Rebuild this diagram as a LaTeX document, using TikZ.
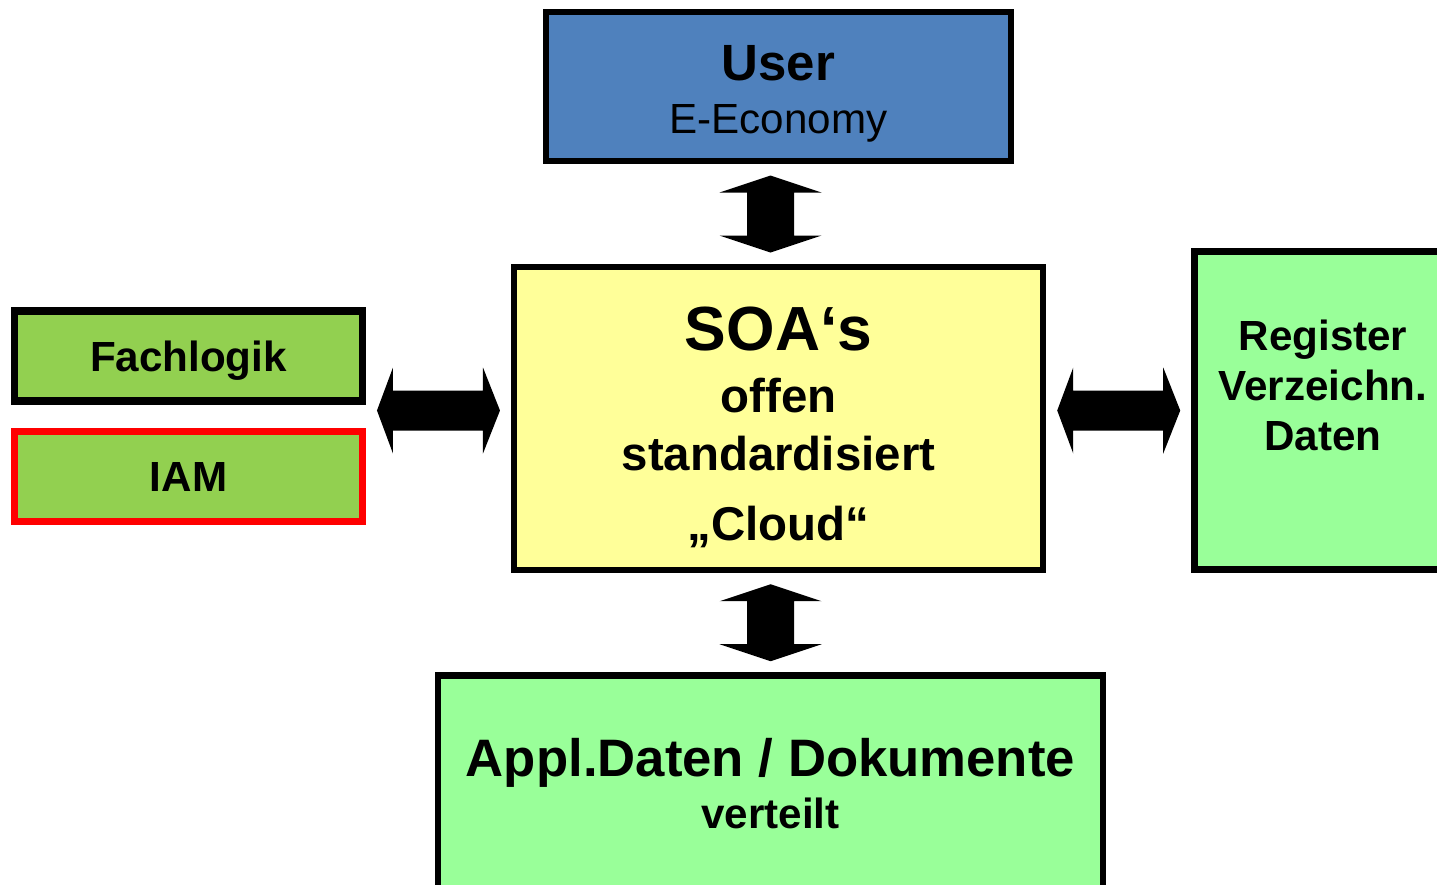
\documentclass[tikz,border=0pt]{standalone}
\usepackage{fontspec}
\setmainfont{Liberation Sans}
\usetikzlibrary{calc}

\definecolor{userblue}{RGB}{79,129,189}
\definecolor{soayellow}{RGB}{255,255,153}
\definecolor{fachgreen}{RGB}{146,208,80}
\definecolor{datagreen}{RGB}{153,255,153}

\tikzset{
  cbox/.style={draw=black, line width=3.5pt, rectangle, inner sep=0pt, align=center, font=\bfseries},
  sidebox/.style={cbox, fill=fachgreen, line width=4pt, minimum width=6.96cm, minimum height=1.8cm, text depth=0pt, font=\bfseries\fontsize{24}{28}\selectfont},
  vdarrow/.pic={\fill[black] (0,-38.5) -- ++(51,17) -- ++(-27.5,0) -- ++(0,43) -- ++(27.5,0) -- ++(-51,17) -- ++(-51,-17) -- ++(27.5,0) -- ++(0,-43) -- ++(-27.5,0) -- cycle;},
  hdarrow/.pic={\fill[black] (-61.5,0) -- ++(16,-43) -- ++(0,23) -- ++(90,0) -- ++(0,-23) -- ++(17,43) -- ++(-17,43) -- ++(0,-23) -- ++(-90,0) -- ++(0,23) -- cycle;}
}

\begin{document}
\begin{tikzpicture}[x=0.02cm, y=-0.02cm]
	  \useasboundingbox (0,0) rectangle (1437,885);   % page = reference size
	  \clip (0,0) rectangle (1437,885);

	  \node[cbox, fill=userblue, minimum width=9.3cm, minimum height=2.98cm, font=\bfseries\fontsize{29}{30.6}\selectfont] (user) at (778.5,86.5)
	    {\mbox{}\\[-2.4pt] User\\ \fontsize{24}{30.6}\selectfont\mdseries E-Economy};

	  \node[cbox, fill=soayellow, minimum width=10.58cm, minimum height=6.06cm, font=\bfseries\fontsize{27}{33}\selectfont] (soa) at (778.5,418.5)
	    {\mbox{}\\[2pt] {\fontsize{35.5}{36}\selectfont SOA‘s}\\[2pt] offen\\ standardisiert\\[7pt] „Cloud“};

	  \node[sidebox] (fach) at (188.5,356) {Fachlogik};
	  \node[sidebox, draw=red] (iam) at (188.5,476.5) {IAM};

	  \node[cbox, fill=datagreen, minimum width=5.14cm, minimum height=6.36cm, font=\bfseries\fontsize{24}{28.4}\selectfont] (reg) at (1323,410.5)
	    {Register\\ Verzeichn.\\ Daten\\ \mbox{}};

	  \node[cbox, fill=datagreen, minimum width=13.3cm, minimum height=4.34cm, font=\bfseries\fontsize{30}{29.5}\selectfont] (app) at (770.5,784)
	    {Appl.Daten / Dokumente\\ \fontsize{24}{29.5}\selectfont verteilt};

	  % double arrows between the boxes
	  \coordinate (tm) at ($(user.south)!0.5!(soa.north)$);
	  \coordinate (bm) at ($(soa.south)!0.5!(app.north)$);
	  \coordinate (lm) at ($(fach.east)!0.5!(soa.west)$);
	  \coordinate (rm) at ($(soa.east)!0.5!(reg.west)$);
	  \pic at (app.north |- tm) {vdarrow};
	  \pic at (app.north |- bm) {vdarrow};
	  \pic at (lm |- reg.west) {hdarrow};
	  \pic at (rm |- reg.west) {hdarrow};

\end{tikzpicture}
\end{document}
